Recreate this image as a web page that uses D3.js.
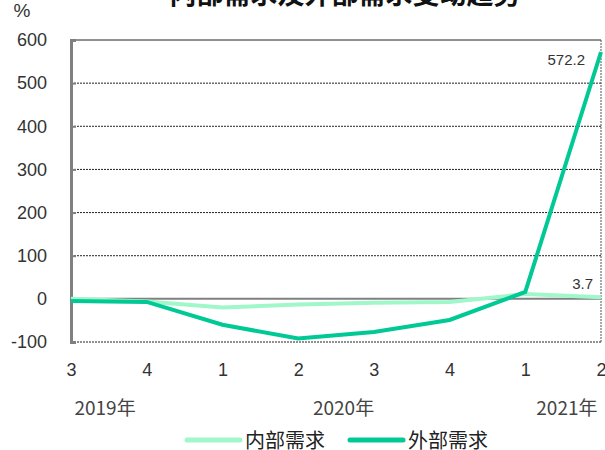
<!DOCTYPE html>
<html>
<head>
<meta charset="utf-8">
<script src="https://cdn.jsdelivr.net/npm/d3@7"></script>
<style>
  body { margin: 0; background: #fff; }
  svg text { font-family: "Liberation Sans", Arial, sans-serif; fill: #333; }
  .cjk { font-family: "Noto Sans CJK SC", sans-serif; }
</style>
</head>
<body>
<svg id="chart" width="605" height="450"></svg>
<script>
"use strict";

// quarters along the x axis
const quarters = ["3", "4", "1", "2", "3", "4", "1", "2"];
const years = [{label: "2019年", at: 0.45}, {label: "2020年", at: 3.6}, {label: "2021年", at: 6.55}];

// series values (%)
const internalDemand = [0, -6, -20, -13, -9, -7, 11, 3.7];
const externalDemand = [-5, -7, -60, -92, -77, -49, 16, 572.2];

const yTicks = [-100, 0, 100, 200, 300, 400, 500, 600];

const chartMargin = { left: 71, top: 40, right: 4, bottom: 108 };
const chartWidth = 605;
const chartHeight = 450;

const lightGreen = "#a0f7ca";
const darkGreen = "#00c995";

const svg = d3.select("#chart");

const x = d3.scalePoint()
  .domain(d3.range(quarters.length))
  .range([chartMargin.left, chartWidth - chartMargin.right]);

const y = d3.scaleLinear()
  .domain([-100, 600])
  .range([chartHeight - chartMargin.bottom, chartMargin.top]);

//title, mostly cut off at the top edge
svg.append("text")
  .attr("class", "cjk")
  .attr("x", 345).attr("y", 4)
  .attr("text-anchor", "middle")
  .style("font-size", "27px")
  .style("font-weight", "bold")
  .style("fill", "#111")
  .text("内部需求及外部需求变动趋势");

svg.append("text")
  .attr("x", 22).attr("y", 17)
  .attr("text-anchor", "middle")
  .style("font-size", "19px")
  .text("%");

//grid lines
svg.append("g")
  .selectAll("line")
  .data(yTicks.filter(d => d !== 0))
  .enter()
  .append("line")
  .attr("x1", chartMargin.left).attr("x2", chartWidth - chartMargin.right)
  .attr("y1", d => y(d)).attr("y2", d => y(d))
  .attr("stroke", "#222")
  .attr("stroke-width", 1)
  .attr("stroke-dasharray", d => d === 600 ? null : "2,1");

//right border
svg.append("line")
  .attr("x1", chartWidth - chartMargin.right).attr("x2", chartWidth - chartMargin.right)
  .attr("y1", y(600)).attr("y2", y(-100))
  .attr("stroke", "#555")
  .attr("stroke-dasharray", "2,1");

//zero line
svg.append("line")
  .attr("x1", chartMargin.left).attr("x2", chartWidth - chartMargin.right)
  .attr("y1", y(0)).attr("y2", y(0))
  .attr("stroke", "#808080")
  .attr("stroke-width", 2);

//left axis (plain hyphen for negatives)
const axisLeft = d3.axisLeft(y).tickValues(yTicks).tickFormat(d => String(d)).tickSize(-5).tickPadding(24);
const gLeft = svg.append("g")
  .attr("transform", "translate(" + chartMargin.left + ",0)")
  .call(axisLeft);
gLeft.select(".domain").attr("stroke", "#808080").attr("stroke-width", 3);
gLeft.selectAll(".tick line").attr("stroke", "#808080").attr("stroke-width", 2);
gLeft.selectAll(".tick text").style("font-size", "18px").style("fill", "#333")
  .attr("font-family", "Liberation Sans, Arial, sans-serif");

//bottom labels
const axisBottom = d3.axisBottom(x).tickFormat(i => quarters[i]).tickSize(0).tickPadding(21);
const gBottom = svg.append("g")
  .attr("transform", "translate(0," + (chartHeight - chartMargin.bottom) + ")")
  .call(axisBottom);
gBottom.select(".domain").remove();
gBottom.selectAll(".tick text").style("font-size", "18px").style("fill", "#333")
  .attr("font-family", "Liberation Sans, Arial, sans-serif");

svg.append("g")
  .selectAll("text")
  .data(years)
  .enter()
  .append("text")
  .attr("class", "cjk")
  .attr("x", d => chartMargin.left + d.at * x.step())
  .attr("y", 415)
  .attr("text-anchor", "middle")
  .style("font-size", "19px")
  .style("fill", "#444")
  .text(d => d.label);

//lines
const line = d3.line().x((_, i) => x(i)).y(d => y(d));

svg.append("path")
  .datum(internalDemand)
  .attr("d", line)
  .attr("fill", "none")
  .attr("stroke", lightGreen)
  .attr("stroke-width", 4);

svg.append("path")
  .datum(externalDemand)
  .attr("d", line)
  .attr("fill", "none")
  .attr("stroke", darkGreen)
  .attr("stroke-width", 4);

//data labels on the last point
const last = quarters.length - 1;
svg.append("text")
  .attr("x", x(last) - 16).attr("y", y(externalDemand[last]) + 13)
  .attr("text-anchor", "end")
  .style("font-size", "15px")
  .text(d3.format(".1f")(externalDemand[last]));

svg.append("text")
  .attr("x", x(last) - 8).attr("y", y(internalDemand[last]) - 8)
  .attr("text-anchor", "end")
  .style("font-size", "15px")
  .text(d3.format(".1f")(internalDemand[last]));

//legend
const legendItems = [
  {name: "内部需求", color: lightGreen, x: 187},
  {name: "外部需求", color: darkGreen, x: 350}
];
const legend = svg.append("g")
  .selectAll("g")
  .data(legendItems)
  .enter()
  .append("g")
  .attr("transform", d => "translate(" + d.x + ",440)");
legend.append("line")
  .attr("x1", 0).attr("x2", 53)
  .attr("stroke", d => d.color)
  .attr("stroke-width", 5)
  .attr("stroke-linecap", "round");
legend.append("text")
  .attr("class", "cjk")
  .attr("x", 58).attr("y", 8)
  .style("font-size", "20px")
  .style("fill", "#222")
  .text(d => d.name);
</script>
</body>
</html>
